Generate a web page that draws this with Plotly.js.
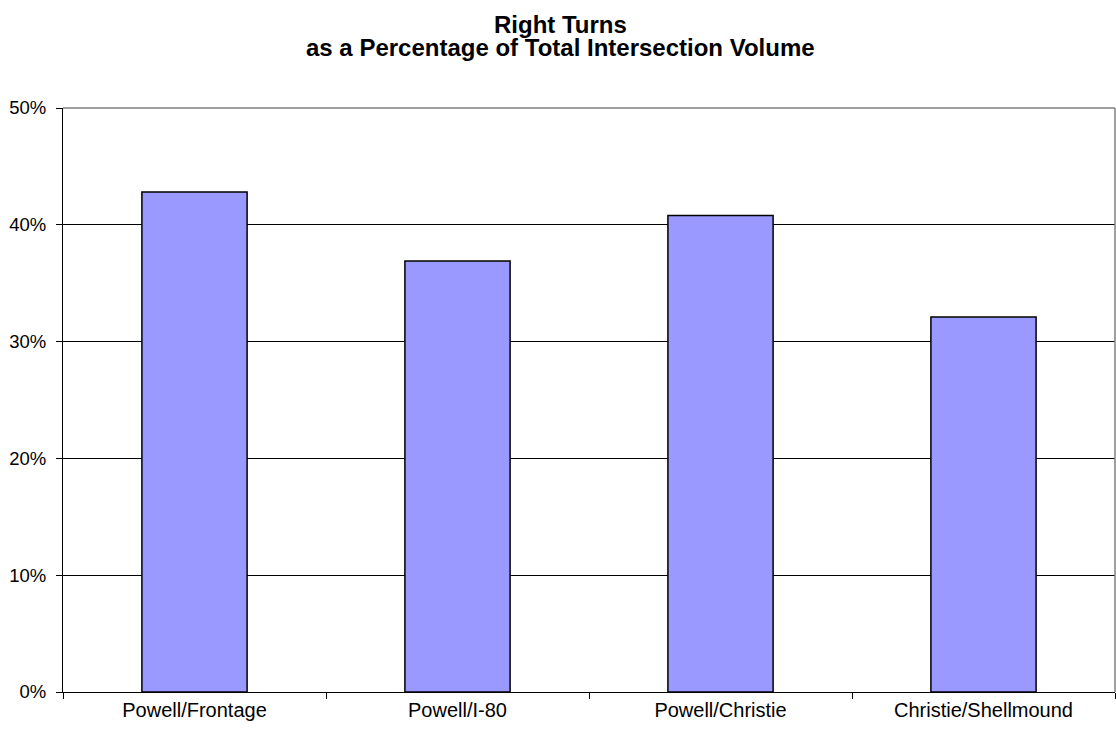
<!DOCTYPE html>
<html>
<head>
<meta charset="utf-8">
<script src="https://cdn.plot.ly/plotly-3.0.1.min.js"></script>
<style>html,body{margin:0;padding:0;background:#fff;}#chart{width:1116px;height:734px;}</style>
</head>
<body>
<div id="chart"></div>
<script>
const categories = ["Powell/Frontage", "Powell/I-80", "Powell/Christie", "Christie/Shellmound"];
const rightTurnPct = [42.8, 36.9, 40.8, 32.1];
const yTicks = [0, 10, 20, 30, 40, 50];
const titleLines = ["Right Turns", "as a Percentage of Total Intersection Volume"];

const trace = {
  type: "bar",
  x: categories,
  y: rightTurnPct,
  marker: {color: "#9999FF", line: {color: "#000000", width: 1.5}},
  width: 0.4,
  hoverinfo: "x+y"
};

const FONT = "Liberation Sans, Arial, sans-serif";

const layout = {
  width: 1116,
  height: 734,
  margin: {l: 63, r: 1, t: 108, b: 42},
  paper_bgcolor: "#ffffff",
  plot_bgcolor: "#ffffff",
  showlegend: false,
  font: {family: FONT, color: "#000000", size: 20},
  xaxis: {
    type: "category",
    showline: true, linecolor: "#000000", linewidth: 1,
    ticks: "outside", tickson: "boundaries", ticklen: 6, tickcolor: "#000000",
    showgrid: false, zeroline: false,
    tickfont: {family: FONT, size: 20, color: "#000000"}
  },
  yaxis: {
    range: [0, 50],
    tickvals: yTicks,
    ticktext: yTicks.map(v => v + "%"),
    showline: true, linecolor: "#000000", linewidth: 1,
    ticks: "outside", ticklen: 6, tickcolor: "#000000",
    ticklabelstandoff: 6,
    showgrid: true, gridcolor: "#000000", gridwidth: 1,
    zeroline: false,
    tickfont: {family: FONT, size: 18.5, color: "#000000"},
    fixedrange: true
  },
  annotations: [
    {text: "<b>" + titleLines[0] + "</b>", xref: "paper", yref: "paper", x: 0.473, y: 1, xanchor: "center", yanchor: "middle", yshift: 84, showarrow: false, font: {family: FONT, size: 24, color: "#000000"}},
    {text: "<b>" + titleLines[1] + "</b>", xref: "paper", yref: "paper", x: 0.473, y: 1, xanchor: "center", yanchor: "middle", yshift: 61, showarrow: false, font: {family: FONT, size: 24, color: "#000000"}}
  ],
  shapes: [
    {type: "line", xref: "paper", yref: "paper", x0: 0, x1: 1, y0: 1, y1: 1, line: {color: "#808080", width: 1.5}},
    {type: "line", xref: "paper", yref: "paper", x0: 1, x1: 1, y0: 0, y1: 1, line: {color: "#808080", width: 1.5}}
  ]
};

Plotly.newPlot("chart", [trace], layout, {displayModeBar: false, staticPlot: true});
</script>
</body>
</html>
